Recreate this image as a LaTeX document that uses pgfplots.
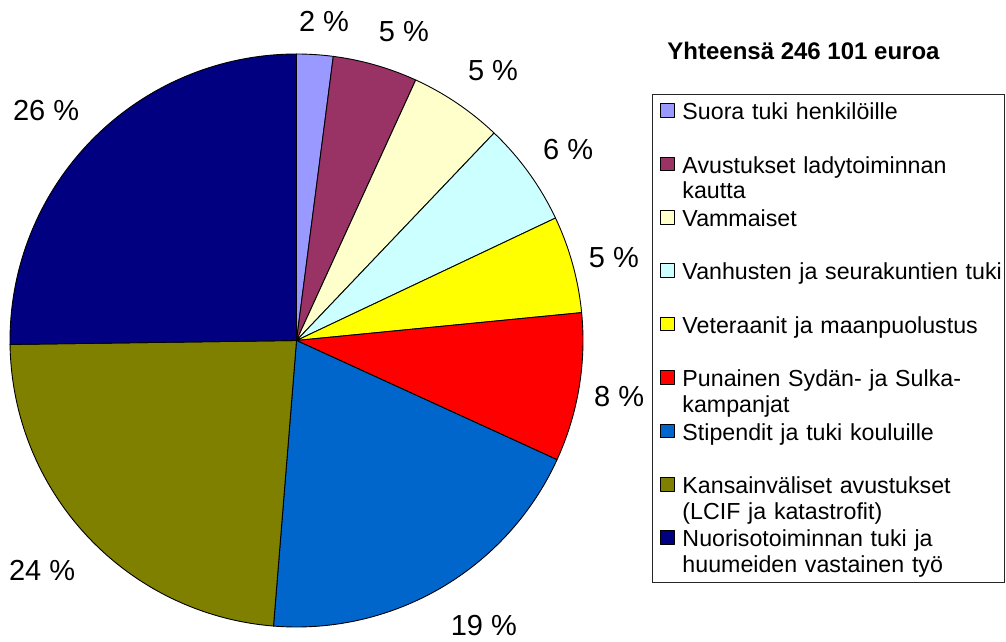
\documentclass[border=0pt]{standalone}
\usepackage{fontspec}
\setmainfont{Liberation Sans}
\usepackage{pgfplots}
\usepackage{pgfplotstable}
\pgfplotsset{compat=1.18}
\definecolor{slice0}{HTML}{9999FF}
\definecolor{slice1}{HTML}{993366}
\definecolor{slice2}{HTML}{FFFFCC}
\definecolor{slice3}{HTML}{CCFFFF}
\definecolor{slice4}{HTML}{FFFF00}
\definecolor{slice5}{HTML}{FF0000}
\definecolor{slice6}{HTML}{0066CC}
\definecolor{slice7}{HTML}{808000}
\definecolor{slice8}{HTML}{000080}
\pgfplotstableread{
value
2.05
4.78
5.28
5.86
5.48
8.38
19.45
23.50
25.22
}\slices
\pgfplotstableread{
x y lab
0.096 1.112 2
0.375 1.077 5
0.686 0.942 5
0.948 0.668 6
1.108 0.288 5
1.126 -0.197 8
0.654 -0.995 19
-0.888 -0.801 24
-0.874 0.801 26
}\labels
\begin{document}
\begin{tikzpicture}
\path[use as bounding box] (0pt,0pt) rectangle (1006pt,642pt);
\begin{axis}[
  at={(10pt,15pt)}, anchor=south west,
  scale only axis, width=573pt, height=573pt,
  xmin=-1, xmax=1, ymin=-1, ymax=1,
  hide axis, clip=false,
  legend image code/.code={\path[draw=none, fill=none] (0pt,0pt) -- (30pt,0pt); \draw[#1, line width=0.8pt] (8pt,2.6pt) rectangle (21.9pt,16.2pt);},
  legend cell align=left,
  legend style={at={(1.1204,0.9302)}, anchor=north west, draw=black!85, line width=1pt, fill=white,
    inner xsep=0pt, inner ysep=3.7pt, column sep=0pt, row sep=0pt,
    font=\fontsize{23.2pt}{25.6pt}\selectfont,
    nodes={inner sep=0pt, text width=322pt, text height=21.6pt, text depth=31.8pt, align=left, anchor=base west}},
]
\def\cum{0}
\pgfplotsforeachungrouped \i in {0,...,8}{%
  \pgfplotstablegetelem{\i}{value}\of\slices
  \pgfmathsetmacro\a{\cum*3.6}%
  \pgfmathsetmacro\cum{\cum+\pgfplotsretval}%
  \pgfmathsetmacro\b{\cum*3.6}%
  \edef\temp{\noexpand\addplot[fill=slice\i, draw=black, line width=0.9pt, line join=round, domain=\a:\b, samples=90] ({sin(x)},{cos(x)}) -- (axis cs:0,0) -- cycle;}%
  \temp
}
\addplot[forget plot, draw=none, mark=none, point meta=explicit symbolic,
  nodes near coords={\pgfplotspointmeta\ \%},
  every node near coord/.append style={font=\fontsize{29pt}{34pt}\selectfont, anchor=center, inner sep=0pt, text width=, text height=, text depth=}]
  table[x=x, y=y, meta=lab] {\labels};
\legend{Suora tuki henkilöille, {Avustukset ladytoiminnan\\kautta}, Vammaiset, Vanhusten ja seurakuntien tuki, Veteraanit ja maanpuolustus, {Punainen Sydän- ja Sulka-\\kampanjat}, Stipendit ja tuki kouluille, {Kansainväliset avustukset\\(LCIF ja katastrofit)}, {Nuorisotoiminnan tuki ja\\huumeiden vastainen työ}}
\end{axis}
\node[font=\fontsize{24pt}{28pt}\selectfont\bfseries, anchor=base] at (803.5pt,582pt) {Yhteensä 246 101 euroa};
\end{tikzpicture}
\end{document}
